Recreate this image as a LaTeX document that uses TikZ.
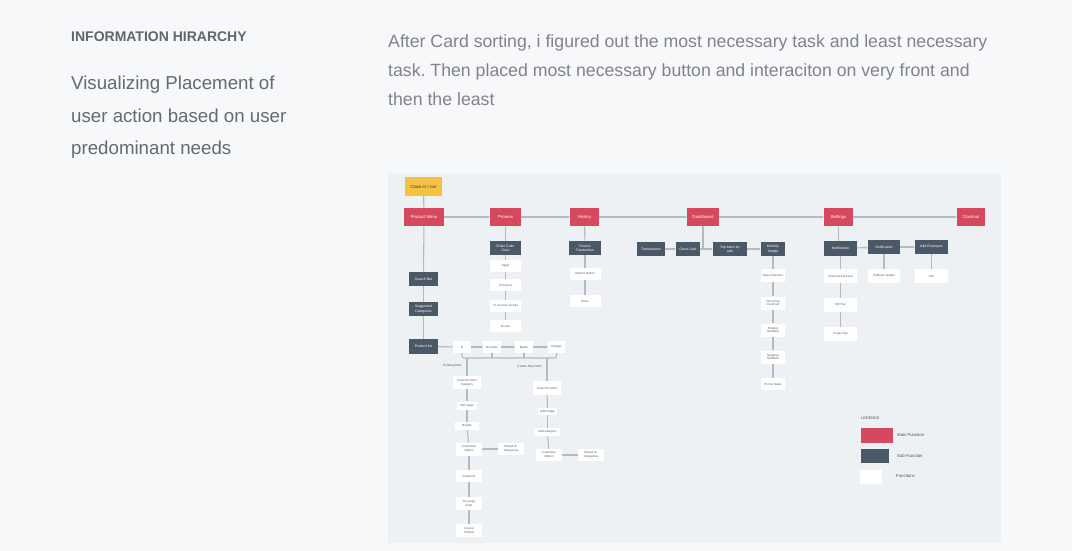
\documentclass[tikz,border=0pt]{standalone}
\usepackage{fontspec}
\setmainfont{Liberation Sans}
\usetikzlibrary{arrows.meta}
\frenchspacing
\definecolor{pagebg}{HTML}{F7F8FA}
\definecolor{panel}{HTML}{EEF1F4}
\definecolor{mainred}{HTML}{D5485E}
\definecolor{subslate}{HTML}{4A5867}
\definecolor{clockyel}{HTML}{F5C143}
\definecolor{conn}{HTML}{B2BAC3}
\definecolor{headgray}{HTML}{5F666E}
\definecolor{bodygray}{HTML}{646A72}
\definecolor{paragray}{HTML}{7F848A}
\definecolor{functext}{HTML}{555B62}
\begin{document}
\begin{tikzpicture}[x=1pt,y=-1pt,
  mainfn/.style={rectangle, fill=mainred, text=white, inner sep=0pt, minimum height=18, minimum width=#1, font=\fontsize{4.3}{5}\selectfont},
  clockfn/.style={rectangle, fill=clockyel, text=black!80, inner sep=0pt, minimum height=19, minimum width=37, font=\fontsize{4.3}{5}\selectfont},
  subfn/.style={rectangle, fill=subslate, text=white, inner sep=0pt, minimum height=14.5, minimum width=#1, align=center, font=\fontsize{3.5}{4.3}\selectfont},
  fun/.style={rectangle, fill=white, text=functext, inner sep=0pt, minimum height=12, minimum width=#1, align=center, font=\fontsize{3}{3.7}\selectfont},
  link/.style={draw=conn, line width=1.1pt},
  arr/.style={link, -{Stealth[length=2.8pt,width=2.8pt]}},
  lbl/.style={font=\fontsize{3.2}{4}\selectfont, text=functext, inner sep=0pt},
  legtxt/.style={font=\fontsize{4.3}{5}\selectfont, text=black!70, anchor=west, inner sep=0pt}
]
\useasboundingbox (0,0) rectangle (1072,551);
\fill[pagebg] (0,0) rectangle (1072,551);

% left column text
\node[anchor=base west, inner sep=0pt, text=headgray, font=\fontsize{14}{16}\selectfont\bfseries] (head) at (71,42) {INFORMATION HIRARCHY};
\node[anchor=base west, inner sep=0pt, text=bodygray, font=\fontsize{18.7}{22}\selectfont] (v1) at (71,90) {Visualizing Placement of};
\node[anchor=base west, inner sep=0pt, text=bodygray, font=\fontsize{18.7}{22}\selectfont] (v2) at (71,122) {user action based on user};
\node[anchor=base west, inner sep=0pt, text=bodygray, font=\fontsize{18.7}{22}\selectfont] (v3) at (71,154) {predominant needs};

% right paragraph
\node[anchor=base west, inner sep=0pt, text=paragray, font=\fontsize{17.7}{21}\selectfont] (p1) at (388,48) {After Card sorting, i figured out the most necessary task and least necessary};
\node[anchor=base west, inner sep=0pt, text=paragray, font=\fontsize{17.7}{21}\selectfont] (p2) at (388,77) {task. Then placed most necessary button and interaciton on very front and};
\node[anchor=base west, inner sep=0pt, text=paragray, font=\fontsize{17.7}{21}\selectfont] (p3) at (388,106) {then the least};

% panel
\fill[panel] (388,173) rectangle (1001,543);

% main row
\node[clockfn] (clock) at (423.5,186.5) {Clock In / Out};
\node[mainfn=40] (pm) at (424,217) {Product Menu};
\node[mainfn=31] (promos) at (505.5,217) {Promos};
\node[mainfn=29] (history) at (584.5,217) {History};
\node[mainfn=32] (dash) at (703,217) {Dashboard};
\node[mainfn=29] (settings) at (838.5,217) {Settings};
\node[mainfn=28] (clockout) at (971,217) {Clockout};

% product menu column
\node[subfn=29] (search) at (423.5,279) {Search Bar};
\node[subfn=29] (sugg) at (423.5,309) {Suggested\\Categories};
\node[subfn=29] (plist) at (423.5,346.5) {Product list};

\node[fun=18] (fi) at (462,347) {Fi};
\node[fun=18] (bo) at (492,347) {Bo Items};
\node[fun=18] (banks) at (524,347) {Banks};
\node[fun=17] (ranges) at (556.5,347) {Ranges};

\node[lbl] (exist) at (452.5,366) {Existing Item};
\node[lbl] (create) at (529.5,366) {Create New Item};

\node[fun=28, minimum height=13] (selcat) at (467,382.5) {Select Product\\Category};
\node[fun=20, minimum height=8] (itempage) at (467,405.5) {Item page};
\node[fun=24, minimum height=8] (buyby) at (467,426) {Buy/By};
\node[fun=26, minimum height=13] (cust1) at (469,449) {Customize\\Option};
\node[fun=26, minimum height=12] (based1) at (511,449) {Based on\\Categories};
\node[fun=26] (checkout2) at (469,476) {Checkout};
\node[fun=26, minimum height=13] (thx) at (469,503.5) {Thx page\\enter};
\node[fun=26, minimum height=13] (invoice2) at (469,530.5) {Invoice\\Printed};

\node[fun=28, minimum height=14] (selprod) at (547,388) {Select Product};
\node[fun=19, minimum height=7] (addimg) at (547.5,411.5) {Add Image};
\node[fun=25, minimum height=8] (addcat) at (547.5,432) {Add Category};
\node[fun=26] (cust2) at (549,455) {Customize\\Option};
\node[fun=26] (based2) at (591,455) {Based on\\Categories};

% promos column
\node[subfn=31] (enter) at (505.5,248) {Enter Code\\Scan};
\node[fun=31] (apply) at (505.5,266) {Apply};
\node[fun=31] (checkout1) at (505.5,285) {Checkout};
\node[fun=31] (txr) at (505.5,306) {Tx success receipt};
\node[fun=31] (invoice1) at (505.5,326) {Invoice};

% history column
\node[subfn=32] (recent) at (585,248) {Recent\\Transaction};
\node[fun=31] (refund) at (585,274) {Refund Option};
\node[fun=31] (done) at (585,301) {Done};

% dashboard
\node[subfn=28, minimum height=14] (trans) at (651,249) {Transactions};
\node[subfn=24, minimum height=14] (gross) at (688,249) {Gross Sale};
\node[subfn=34, minimum height=14] (top) at (730,249) {Top items by\\sale};
\node[subfn=24, minimum height=14] (monthly) at (773,249) {Monthly\\Insight};
\node[fun=24, minimum height=13] (newc) at (773,275.5) {New Customer};
\node[fun=24, minimum height=13] (recur) at (773,303) {Recurring\\Customer};
\node[fun=24, minimum height=13] (pos) at (773,330) {Positive\\feedback};
\node[fun=24, minimum height=13] (neg) at (773,357) {Negative\\feedback};
\node[fun=24] (promo) at (773,384) {Promo Sales};

% settings
\node[subfn=33, minimum height=15] (notif) at (840.5,248.5) {Notification};
\node[subfn=32, minimum height=14] (notif2) at (884,247) {Notification};
\node[subfn=33, minimum height=14] (addemp) at (931.5,247) {Add Employee};
\node[fun=33, minimum height=14] (intl) at (840.5,276) {International Card};
\node[fun=33, minimum height=14] (qr) at (840.5,305) {QR Pay};
\node[fun=33, minimum height=14] (crypto) at (840.5,334) {Crypto Pay};
\node[fun=32, minimum height=14] (soft) at (884,276) {Software update};
\node[fun=33, minimum height=14] (info) at (931.5,276) {Info};

% legend
\node[anchor=west, inner sep=0pt, font=\fontsize{3.8}{4.5}\selectfont, text=black!70] (legh) at (861,418.5) {LEGENDS};
\node[rectangle, fill=mainred, inner sep=0pt, minimum width=32, minimum height=15, anchor=north west] (legm) at (861,428) {};
\node[rectangle, fill=subslate, inner sep=0pt, minimum width=28, minimum height=14, anchor=north west] (legs) at (861,449) {};
\node[rectangle, fill=white, inner sep=0pt, minimum width=22, minimum height=14, anchor=north west] (legf) at (860,470) {};
\node[legtxt] (legmt) at (897,434.5) {Main Function};
\node[legtxt] (legst) at (897,455.5) {Sub Function};
\node[legtxt] (legft) at (896,476) {Functions};

% connectors main row
\draw[link] (clock) -- (pm);
\draw[arr] (pm) -- (promos);
\draw[arr] (promos) -- (history);
\draw[arr] (history) -- (dash);
\draw[arr] (dash) -- (settings);
\draw[arr] (settings) -- (clockout);

% product menu column
\draw[link] (pm) -- (search);
\draw[link] (search) -- (sugg);
\draw[link] (sugg) -- (plist);
\draw[link] (plist) -- (fi);
\draw[arr] (fi) -- (bo);
\draw[arr] (bo) -- (banks);
\draw[arr] (banks) -- (ranges);
\coordinate (bl) at (462,358);
\coordinate (br) at (556.5,358);
\draw[link, rounded corners=2pt] (fi.south) -- (bl) -- (br) -- (ranges.south);
\draw[link] (bo.south) -- (bo.south |- bl);
\draw[link] (banks.south) -- (banks.south |- bl);
\draw[link] (selcat.north) -- (selcat.north |- bl);
\draw[link] (selprod.north) -- (selprod.north |- bl);
\draw[link] (selcat) -- (itempage);
\draw[link] (itempage) -- (buyby);
\draw[link] (buyby) -- (cust1);
\draw[link] (cust1) -- (checkout2);
\draw[link] (checkout2) -- (thx);
\draw[link] (thx) -- (invoice2);
\draw[link] (cust1) -- (based1);
\draw[link] (selprod) -- (addimg);
\draw[link] (addimg) -- (addcat);
\draw[link] (addcat) -- (cust2);
\draw[link] (cust2) -- (based2);

% promos
\draw[link] (promos) -- (enter);
\draw[link] (enter) -- (apply);
\draw[link] (apply) -- (checkout1);
\draw[link] (checkout1) -- (txr);
\draw[link] (txr) -- (invoice1);

% history
\draw[link] (history) -- (recent);
\draw[link] (recent) -- (refund);
\draw[link] (refund) -- (done);

% dashboard
\draw[link] (dash.south) -- (dash.south |- trans.center);
\draw[arr] (trans) -- (gross);
\draw[arr] (gross) -- (top);
\draw[arr] (top) -- (monthly);
\draw[link] (monthly) -- (newc);
\draw[link] (newc) -- (recur);
\draw[link] (recur) -- (pos);
\draw[link] (pos) -- (neg);
\draw[link] (neg) -- (promo);

% settings
\draw[link] (settings.south) -- (settings.south |- notif.north);
\draw[arr] (notif) -- (notif2);
\draw[arr] (notif2) -- (addemp);
\draw[link] (notif) -- (intl);
\draw[link] (intl) -- (qr);
\draw[link] (qr) -- (crypto);
\draw[link] (notif2) -- (soft);
\draw[link] (addemp) -- (info);
\end{tikzpicture}
\end{document}
